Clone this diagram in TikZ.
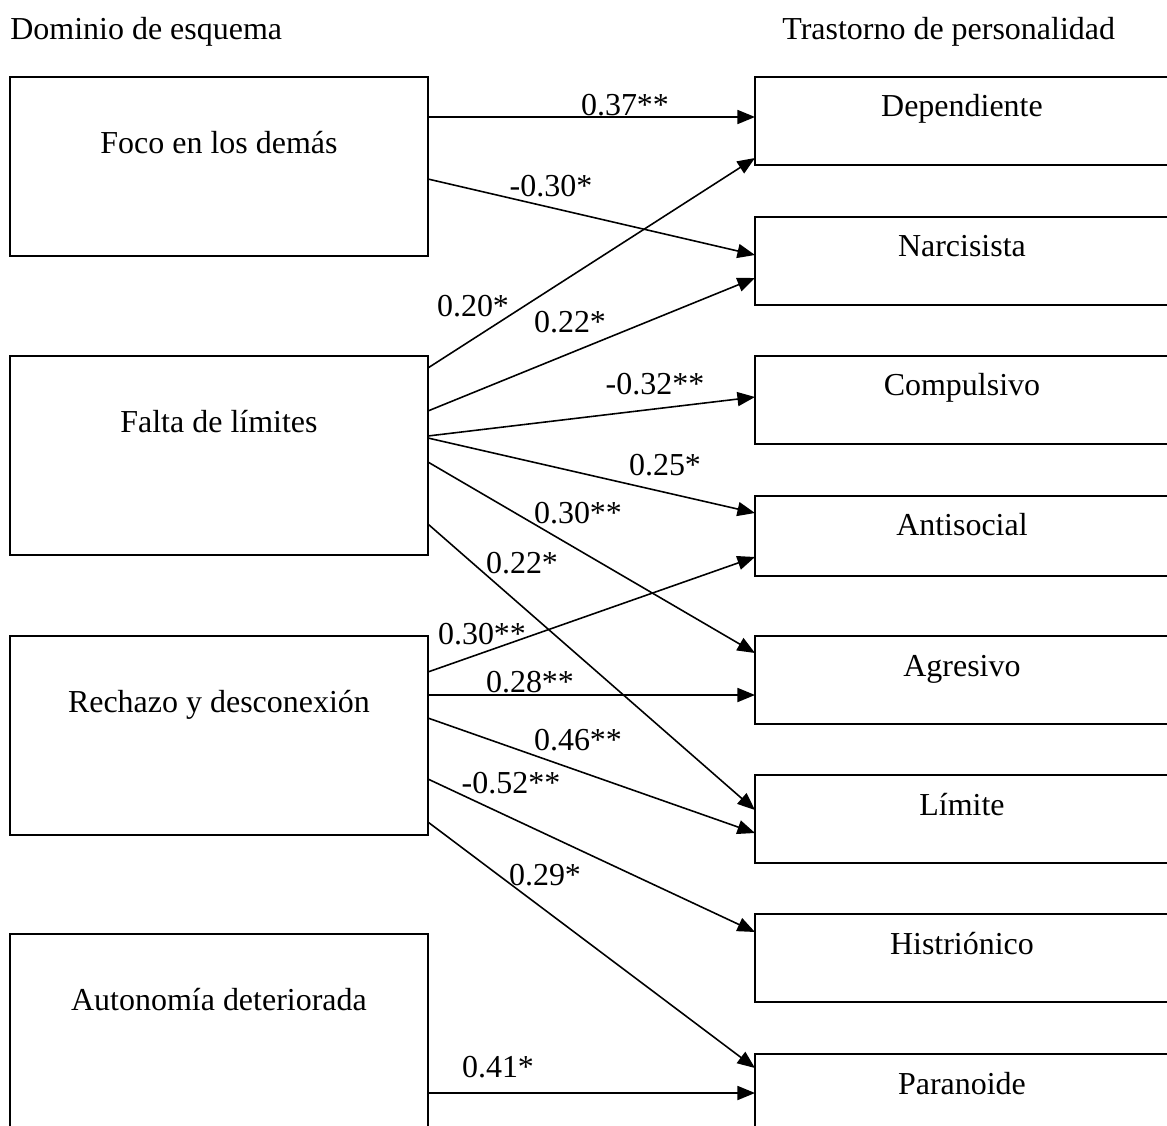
\documentclass[tikz,border=0pt]{standalone}
\usepackage{fontspec}
\setmainfont{Liberation Serif}
\usetikzlibrary{arrows.meta,calc}

\begin{document}
\begin{tikzpicture}[x=0.02cm,y=-0.02cm,font=\fontsize{18.2}{21}\selectfont,
 lbox/.style={draw,line width=1.1pt,inner sep=0pt,outer sep=0pt,anchor=north west,minimum width=8.36cm,text height=1.54cm},
 rbox/.style={draw,line width=1.1pt,inner sep=0pt,outer sep=0pt,anchor=north west,minimum width=8.28cm,text height=0.8cm,text depth=0.96cm},
 coef/.style={inner sep=0pt},
 arrow/.style={-{Triangle[length=10pt,width=8pt]},line width=.9pt}]
\path[use as bounding box] (0,0) rectangle (1167,1126);
\clip (0,0) rectangle (1167,1126);
\node[anchor=base west,inner sep=0pt] (hleft) at (10,39) {Dominio de esquema};
\node[anchor=base west,inner sep=0pt] (hright) at (782,39) {Trastorno de personalidad};
\node[lbox,text depth=2.04cm] (foco) at (10,77) {Foco en los demás};
\node[lbox,text depth=2.44cm] (falta) at (10,356) {Falta de límites};
\node[lbox,text depth=2.44cm] (rech) at (10,636) {Rechazo y desconexión};
\node[lbox,text depth=2.8cm] (auto) at (10,934) {Autonomía deteriorada};
\node[rbox] (dep) at (755,77) {Dependiente};
\node[rbox] (nar) at (755,217) {Narcisista};
\node[rbox] (comp) at (755,356) {Compulsivo};
\node[rbox,text depth=0.8cm] (anti) at (755,496) {Antisocial};
\node[rbox] (agr) at (755,636) {Agresivo};
\node[rbox] (lim) at (755,775) {Límite};
\node[rbox] (hist) at (755,914) {Histriónico};
\node[rbox] (par) at (755,1054) {Paranoide};
\draw[arrow] ($(foco.north east)+(0,40)$)--($(dep.north west)+(0,40)$);
\draw[arrow] ($(foco.north east)+(0,102)$)--($(nar.north west)+(0,38)$);
\draw[arrow] ($(falta.north east)+(0,12)$)--($(dep.north west)+(0,81)$);
\draw[arrow] ($(falta.north east)+(0,55)$)--($(nar.north west)+(0,61)$);
\draw[arrow] ($(falta.north east)+(0,80)$)--($(comp.north west)+(0,41)$);
\draw[arrow] ($(falta.north east)+(0,82)$)--($(anti.north west)+(0,17)$);
\draw[arrow] ($(falta.north east)+(0,106)$)--($(agr.north west)+(0,17)$);
\draw[arrow] ($(falta.north east)+(0,168)$)--($(lim.north west)+(0,35)$);
\draw[arrow] ($(rech.north east)+(0,36)$)--($(anti.north west)+(0,61)$);
\draw[arrow] ($(rech.north east)+(0,59)$)--($(agr.north west)+(0,59)$);
\draw[arrow] ($(rech.north east)+(0,82)$)--($(lim.north west)+(0,58)$);
\draw[arrow] ($(rech.north east)+(0,143)$)--($(hist.north west)+(0,18)$);
\draw[arrow] ($(rech.north east)+(0,186)$)--($(par.north west)+(0,14)$);
\draw[arrow] ($(auto.north east)+(0,159)$)--($(par.north west)+(0,39)$);
\node[coef] (c1) at (625,105) {0.37**};
\node[coef] (c2) at (551,186) {-0.30*};
\node[coef] (c3) at (473,306) {0.20*};
\node[coef] (c4) at (570,322) {0.22*};
\node[coef] (c5) at (655,384) {-0.32**};
\node[coef] (c6) at (665,465) {0.25*};
\node[coef] (c7) at (578,513) {0.30**};
\node[coef] (c8) at (522,563) {0.22*};
\node[coef] (c9) at (482,634) {0.30**};
\node[coef] (c10) at (530,682) {0.28**};
\node[coef] (c11) at (578,740) {0.46**};
\node[coef] (c12) at (511,783) {-0.52**};
\node[coef] (c13) at (545,875) {0.29*};
\node[coef] (c14) at (498,1067) {0.41*};
\end{tikzpicture}
\end{document}
